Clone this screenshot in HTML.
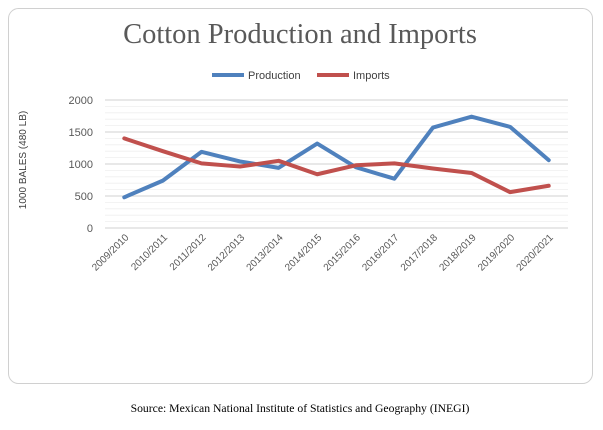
<!DOCTYPE html>
<html><head><meta charset="utf-8"><style>
body{margin:0;width:603px;height:425px;background:#fff;overflow:hidden;font-family:"Liberation Sans",sans-serif}
</style></head><body>
<svg width="603" height="425">
<rect x="8.5" y="8.5" width="584" height="375" rx="10" fill="#fff" stroke="#d0d0d0"/>
<text x="300" y="43" text-anchor="middle" font-family="Liberation Serif,serif" font-size="28.5" fill="#595959">Cotton Production and Imports</text>
<g>
<line x1="212" y1="75" x2="244" y2="75" stroke="#4f81bd" stroke-width="4"/>
<text x="248" y="79" font-size="11" fill="#404040">Production</text>
<line x1="317" y1="75" x2="349" y2="75" stroke="#c0504d" stroke-width="4"/>
<text x="353" y="79" font-size="11" fill="#404040">Imports</text>
</g>
<text transform="translate(26,160) rotate(-90)" text-anchor="middle" font-size="10" fill="#404040">1000 BALES (480 LB)</text>
<g id="grid"></g><g id="ylab"></g><g id="xlab"></g><g id="series"></g>
<text x="300" y="412" text-anchor="middle" font-family="Liberation Serif,serif" font-size="11.7" fill="#000">Source: Mexican National Institute of Statistics and Geography (INEGI)</text>
</svg>
<script>
const categories=["2009/2010","2010/2011","2011/2012","2012/2013","2013/2014","2014/2015","2015/2016","2016/2017","2017/2018","2018/2019","2019/2020","2020/2021"];
const production=[480,740,1190,1040,940,1320,950,770,1570,1740,1580,1060];
const imports=[1400,1200,1010,960,1050,840,980,1010,930,860,560,660];
const yTicks=[0,500,1000,1500,2000];
const NS="http://www.w3.org/2000/svg";
const x0=105,x1=568,y0=228,y1=100,ymax=2000;
const step=(x1-x0)/categories.length;
const X=i=>x0+step*(i+0.5);
const Y=v=>y0-(v/ymax)*(y0-y1);
function mk(t,a,p){const e=document.createElementNS(NS,t);for(const k in a)e.setAttribute(k,a[k]);p.appendChild(e);return e;}
const grid=document.getElementById('grid');
for(let v=0;v<=ymax;v+=100){
 const l=mk('line',{x1:x0,x2:x1,y1:Y(v),y2:Y(v),stroke:v%500===0?'#d9d9d9':'#efefef','stroke-width':v%500===0?1.2:0.8},grid);
 
 
}
const yl=document.getElementById('ylab');
yTicks.forEach(v=>{const t=mk('text',{x:93,y:Y(v)+4,'text-anchor':'end','font-size':11,fill:'#595959'},yl);t.textContent=v;
 
 });
const xl=document.getElementById('xlab');
categories.forEach((c,i)=>{const t=mk('text',{transform:`translate(${X(i)+5},${y0+10}) rotate(-45)`,'text-anchor':'end','font-size':10,fill:'#595959'},xl);t.textContent=c;
 
 });
const s=document.getElementById('series');
[[production,'#4f81bd','production-line'],[imports,'#c0504d','imports-line']].forEach(([d,c,n])=>{
 const p=mk('polyline',{points:d.map((v,i)=>X(i)+','+Y(v)).join(' '),fill:'none',stroke:c,'stroke-width':4,'stroke-linejoin':'round','stroke-linecap':'round'},s);
 
 
});
</script>
</body></html>
